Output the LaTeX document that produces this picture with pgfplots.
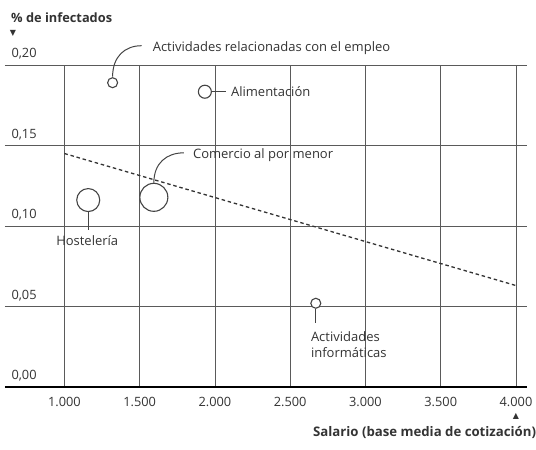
\documentclass[border=0pt]{standalone}
\usepackage{pgfplots}
\pgfplotsset{compat=1.18}
\usepackage{fontspec}
\setmainfont{Open Sans}
\newfontfamily\sym{DejaVu Sans}
\definecolor{txt}{HTML}{333333}
\definecolor{grd}{HTML}{5A5A5A}
\definecolor{bub}{HTML}{444444}
\begin{document}
\begin{tikzpicture}[font=\fontsize{13}{15}\selectfont, text=txt]
\begin{axis}[
  name=ax, scale only axis, width=522pt, height=322pt,
  xmin=605, xmax=4073, ymin=0, ymax=0.20,
  axis x line*=bottom, axis y line*=left,
  x axis line style={black, line width=1.1pt, -},
  y axis line style={draw=none},
  major tick length=0pt,
  xtick={1000,1500,2000,2500,3000,3500,4000},
  xticklabels={1.000,1.500,2.000,2.500,3.000,3.500,4.000},
  ytick={0,0.05,0.10,0.15,0.20},
  yticklabels={{0,00},{0,05},{0,10},{0,15},{0,20}},
  xticklabel style={font=\fontsize{12.8}{14}\selectfont, text=txt, yshift=-7pt},
  yticklabel style={font=\fontsize{12.8}{14}\selectfont, text=txt, anchor=south west, yshift=2pt, xshift=3pt},
  grid=major, grid style={grd, line width=0.7pt},
  clip=false,
]
% trend line
\addplot[black!80, line width=1.3pt, dash pattern=on 3.5pt off 2.8pt] coordinates {(1000,0.145) (4000,0.063)};
% bubbles
\addplot[only marks, mark=*, mark size=5pt, mark options={fill=white, draw=bub, line width=1.1pt}] coordinates {(1320,0.189)};
\addplot[only marks, mark=*, mark size=6.5pt, mark options={fill=white, draw=bub, line width=1.1pt}] coordinates {(1933,0.1834)};
\addplot[only marks, mark=*, mark size=14pt, mark options={fill=white, draw=bub, line width=1.1pt}] coordinates {(1594,0.1178)};
\addplot[only marks, mark=*, mark size=11.5pt, mark options={fill=white, draw=bub, line width=1.1pt}] coordinates {(1158,0.1161)};
\addplot[only marks, mark=*, mark size=5pt, mark options={fill=white, draw=bub, line width=1.1pt}] coordinates {(2670,0.052)};
\coordinate (pE) at (axis cs:1320,0.189);
\coordinate (pA) at (axis cs:1933,0.1834);
\coordinate (pC) at (axis cs:1594,0.1178);
\coordinate (pH) at (axis cs:1158,0.1161);
\coordinate (pI) at (axis cs:2670,0.052);
\end{axis}
% annotations
\draw[bub, line width=1pt] ([yshift=6pt]pE) .. controls +(0,20pt) and +(-17pt,0) .. +(29pt,31pt);
\node[anchor=west, inner sep=0pt] at ([xshift=40pt,yshift=35pt]pE) {Actividades relacionadas con el empleo};
\draw[bub, line width=1pt] ([xshift=7pt]pA) -- +(14pt,0);
\node[anchor=west, inner sep=0pt] at ([xshift=26pt]pA) {Alimentación};
\draw[bub, line width=1pt] ([yshift=14.5pt]pC) .. controls +(0,20pt) and +(-17pt,0) .. +(30pt,30pt);
\node[anchor=west, inner sep=0pt] at ([xshift=39pt,yshift=42pt]pC) {Comercio al por menor};
\draw[bub, line width=1pt] ([yshift=-12pt]pH) -- +(0,-18pt);
\node[anchor=center, inner sep=0pt] at ([xshift=-1pt,yshift=-41pt]pH) {Hostelería};
\draw[bub, line width=1pt] ([yshift=-5.5pt]pI) -- +(0,-14pt);
\node[anchor=north west, inner sep=0pt, align=left, font=\fontsize{13}{16.5}\selectfont] at ([xshift=-5pt,yshift=-28pt]pI) {Actividades\\informáticas};
\node[anchor=west, inner sep=0pt, font=\bfseries\fontsize{12.8}{14}\selectfont] at ([xshift=6pt,yshift=47pt]ax.north west) {\% de infectados};
\node[inner sep=0pt, font=\sym\fontsize{8}{9}\selectfont] at ([xshift=8pt,yshift=32pt]ax.north west) {▼};
\node[anchor=west, inner sep=0pt, font=\bfseries\fontsize{13.2}{14}\selectfont] at ([xshift=-214pt,yshift=-46pt]ax.south east) {Salario (base media de cotización)};
\node[inner sep=0pt, font=\sym\fontsize{8}{9}\selectfont] at ([xshift=-11pt,yshift=-29pt]ax.south east) {▲};
\path[use as bounding box] ([xshift=-5pt,yshift=-63pt]ax.south west) rectangle ([xshift=9pt,yshift=65pt]ax.north east);
\end{tikzpicture}
\end{document}
